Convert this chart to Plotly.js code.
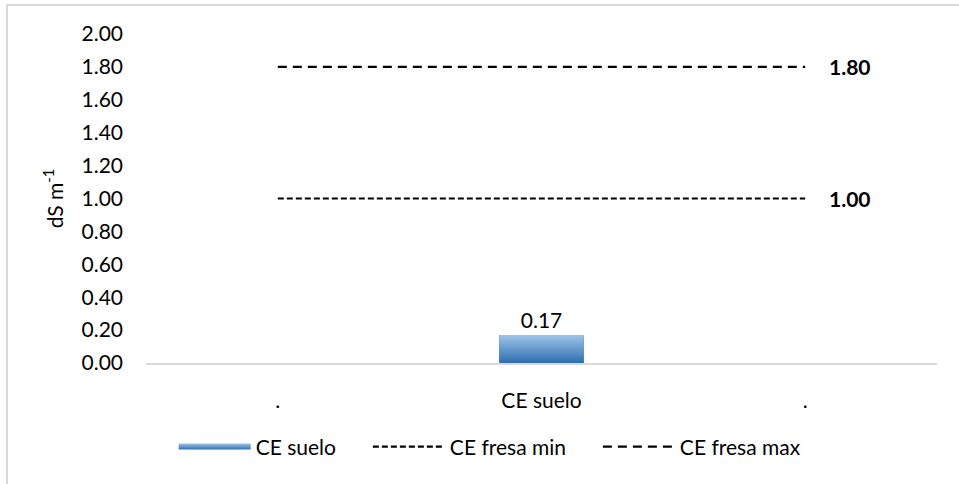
<!DOCTYPE html>
<html><head><meta charset="utf-8">
<script src="https://cdn.plot.ly/plotly-3.0.1.min.js"></script>
<style>
html,body{margin:0;padding:0;background:#fff}
#chart{position:absolute;left:0;top:0;width:959px;height:484px}
#frame{position:absolute;left:6px;top:4px;width:953px;height:480px;border-top:2px solid #d9d9d9;border-left:2px solid #d9d9d9;pointer-events:none;z-index:5}
</style></head>
<body><div id="chart"></div><div id="frame"></div>
<script>
// ---- data ----
const categories = ['.', 'CE suelo', '.'];
const barName = 'CE suelo';
const barIndex = 1;
const barValue = 0.17;
const minName = 'CE fresa min';
const minValues = [1.00, 1.00, 1.00];
const maxName = 'CE fresa max';
const maxValues = [1.80, 1.80, 1.80];
const yAxisTitle = 'dS m<sup>-1</sup>';

// ---- build ----
const xIdx = categories.map((c, i) => i);
const last = xIdx.length - 1;
const barW = 0.32;
const FONT = 'Lato, "Open Sans", sans-serif';
const FS = 21;
const PAD = '\u00a0'.repeat(5);   // spacing between legend entries

const traces = [
  {
    type: 'bar', x: [barIndex], y: [barValue], width: barW,
    marker: {color: '#5b9bd5', line: {width: 0}},
    text: [barValue.toFixed(2)], textposition: 'outside', cliponaxis: false,
    textfont: {family: FONT, size: FS, color: '#000'},
    showlegend: false, hoverinfo: 'skip'
  },
  {
    type: 'scatter', name: barName + PAD, mode: 'none',
    x: [barIndex - barW/2, barIndex - barW/2, barIndex + barW/2, barIndex + barW/2, barIndex - barW/2],
    y: [0, barValue, barValue, 0, 0],
    fill: 'toself',
    fillgradient: {type: 'vertical', colorscale: [[0, '#2e6fb0'], [1, '#9fc4e8']]},
    hoverinfo: 'skip'
  },
  {
    type: 'scatter', name: minName + PAD, mode: 'lines', x: xIdx, y: minValues,
    line: {color: '#000', width: 2.2, dash: '6px,3px'}
  },
  {
    type: 'scatter', name: maxName, mode: 'lines', x: xIdx, y: maxValues,
    line: {color: '#000', width: 2.2, dash: '9px,6px'}
  }
];

const annotations = [
  {x: xIdx[last], y: maxValues[last], text: '<b>' + maxValues[last].toFixed(2) + '</b>'},
  {x: xIdx[last], y: minValues[last], text: '<b>' + minValues[last].toFixed(2) + '</b>'}
].map(a => Object.assign(a, {xref: 'x', yref: 'y', xanchor: 'left', yanchor: 'middle', xshift: 22, showarrow: false,
  font: {family: FONT, size: FS, color: '#000'}}));

const layout = {
  width: 959, height: 484,
  margin: {l: 146, r: 22, t: 34, b: 121},
  paper_bgcolor: '#fff', plot_bgcolor: '#fff',
  font: {family: FONT, size: FS, color: '#000'},
  showlegend: true,
  legend: {orientation: 'h', x: 0.035, xanchor: 'left', y: -0.255, yanchor: 'middle',
    itemwidth: 72, font: {family: FONT, size: FS, color: '#000'}, traceorder: 'normal'},
  xaxis: {
    range: [-0.5, 2.5], tickvals: xIdx, ticktext: categories,
    showgrid: false, zeroline: false, showline: true, linecolor: '#d9d9d9', linewidth: 2,
    ticks: '', ticklabelstandoff: 18, fixedrange: true
  },
  yaxis: {
    range: [0, 2.0], dtick: 0.2, tick0: 0, tickformat: '.2f',
    showgrid: false, zeroline: false, showline: false, ticks: '',
    ticklabelstandoff: 22,
    title: {text: yAxisTitle, standoff: 12, font: {family: FONT, size: FS, color: '#000'}},
    fixedrange: true
  },
  annotations: annotations,
  bargap: 0
};

Plotly.newPlot('chart', traces, layout, {displayModeBar: false, staticPlot: true});
</script>
</body></html>
